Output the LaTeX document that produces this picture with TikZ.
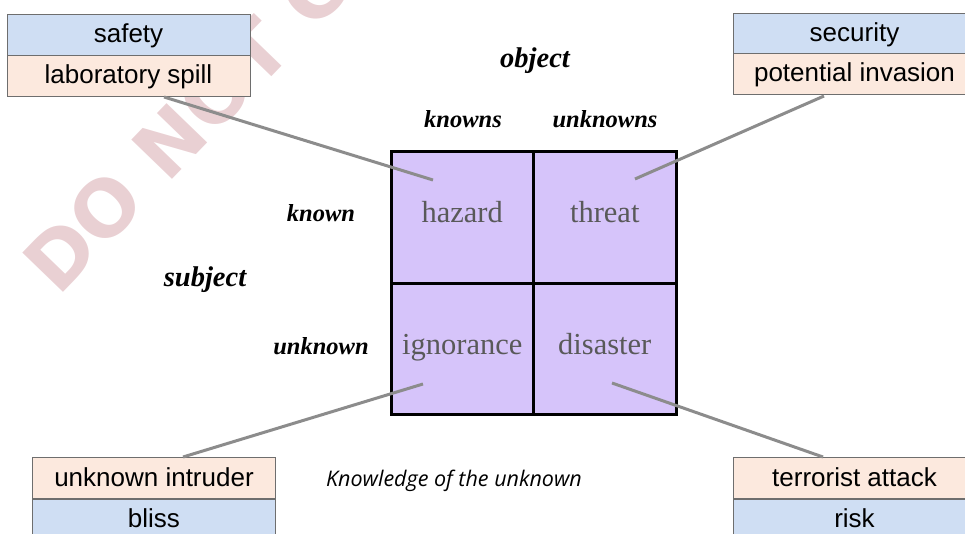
\documentclass[tikz,border=0pt]{standalone}
\usepackage{fontspec}
\setmainfont{Liberation Serif}
\newfontfamily\boxfont{Liberation Sans}
\newfontfamily\capfont{Open Sans}
\newfontfamily\wmfont{DejaVu Sans}
\definecolor{boxblue}{RGB}{207,222,243}
\definecolor{boxpeach}{RGB}{252,233,222}
\definecolor{cellpurple}{RGB}{214,196,250}
\definecolor{cellgrey}{RGB}{89,89,89}
\definecolor{linkgrey}{RGB}{140,140,140}
\definecolor{wmpink}{RGB}{233,208,211}
\definecolor{edgegrey}{RGB}{110,110,110}
\begin{document}
\begin{tikzpicture}[x=1pt,y=-1pt,
 tag/.style={draw=edgegrey,line width=0.8pt,minimum width=243pt,minimum height=41pt,inner sep=0pt,text height=20pt,text depth=4pt,font=\boxfont\fontsize{26}{30}\selectfont},
 bluetag/.style={tag,fill=boxblue},
 peachtag/.style={tag,fill=boxpeach},
 cell/.style={draw=black,line width=3pt,fill=cellpurple,minimum width=142.5pt,minimum height=131.5pt,inner sep=0pt,text height=19pt,text depth=8pt,text=cellgrey,font=\fontsize{30.5}{34}\selectfont},
 axis/.style={font=\bfseries\itshape\fontsize{24.5}{28}\selectfont,inner sep=0pt,anchor=base},
 head/.style={font=\bfseries\itshape\fontsize{28.5}{32}\selectfont,inner sep=0pt,anchor=base},
 link/.style={draw=linkgrey,line width=3pt}]
\useasboundingbox (0,0) rectangle (965,534);
\clip (0,0) rectangle (965,534);
% watermark
\node[rotate=46,anchor=base west,text=wmpink,font=\wmfont\bfseries\fontsize{77.6}{80}\selectfont,inner sep=0pt] (wm) at (58,298) {DO NOT COPY};
% grid
\node[cell] (hazard) at (462.25,217.25) {hazard};
\node[cell] (threat) at (604.75,217.25) {threat};
\node[cell] (ignorance) at (462.25,348.75) {ignorance};
\node[cell] (disaster) at (604.75,348.75) {disaster};
% tags
\node[bluetag] (safety) at (128.5,34.5) {safety};
\node[peachtag] (spill) at (128.5,76) {laboratory spill};
\node[bluetag] (security) at (854.5,33.5) {security};
\node[peachtag] (invasion) at (854.5,74) {potential invasion};
\node[bluetag] (bliss) at (154,519.5) {bliss};
\node[peachtag] (intruder) at (154,478) {unknown intruder};
\node[bluetag] (risk) at (854.5,519.5) {risk};
\node[peachtag] (attack) at (854.5,478) {terrorist attack};
% connector ends
\coordinate (a1) at (164,97);
\coordinate (b1) at (433,180);
\coordinate (a2) at (824,96);
\coordinate (b2) at (635,179);
\coordinate (a3) at (183,457);
\coordinate (b3) at (423,384);
\coordinate (a4) at (823,457);
\coordinate (b4) at (612,383);
\draw[link] (a1) -- (b1);
\draw[link] (a2) -- (b2);
\draw[link] (a3) -- (b3);
\draw[link] (a4) -- (b4);
% labels
\node[head] (object) at (535,68) {object};
\node[axis] (knowns) at (463,128) {knowns};
\node[axis] (unknowns) at (605,128) {unknowns};
\node[axis] (known) at (321,222) {known};
\node[head] (subject) at (205,287) {subject};
\node[axis] (unknown) at (321,354) {unknown};
\node[anchor=base west,inner sep=0pt,font=\capfont\itshape\fontsize{21.5}{25}\selectfont] (caption) at (326,486) {Knowledge of the unknown};
\end{tikzpicture}
\end{document}
